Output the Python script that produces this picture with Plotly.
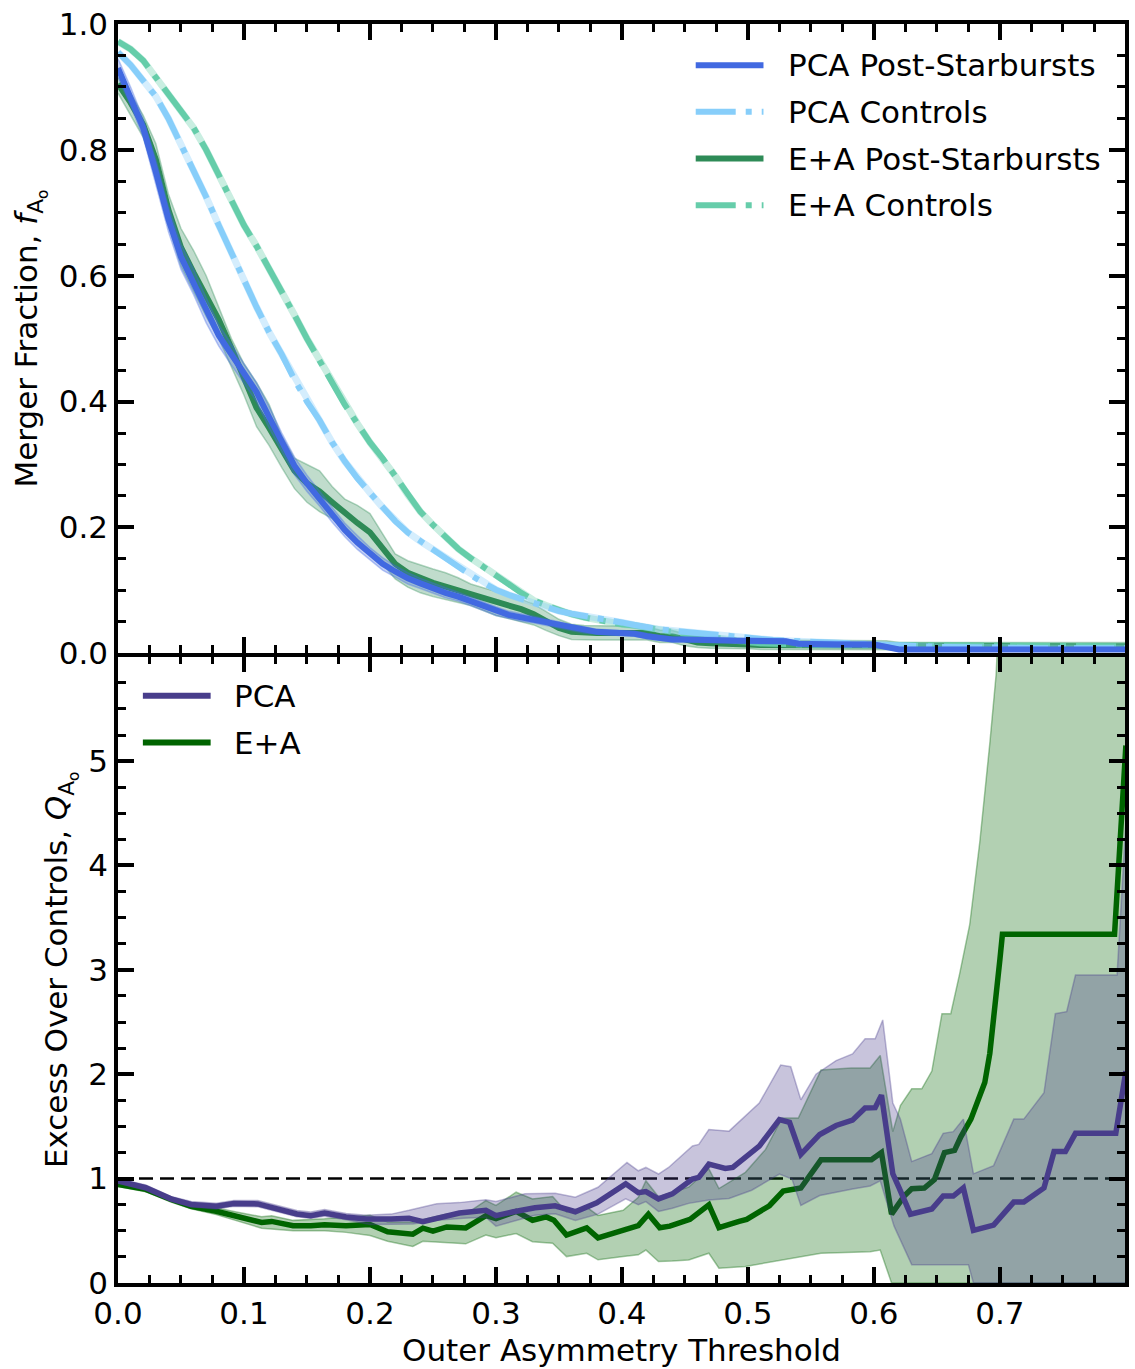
import numpy as np
import plotly.graph_objects as go
from plotly.subplots import make_subplots

# ---------------- top panel: merger fraction vs threshold ----------------
thr = np.round(np.arange(0, 0.8001, 0.01), 2)

pca_psb = [0.930, 0.885, 0.835, 0.765, 0.690, 0.630, 0.590, 0.545, 0.505, 0.475,
           0.445, 0.415, 0.375, 0.335, 0.298, 0.270, 0.246, 0.220, 0.196, 0.176,
           0.158, 0.142, 0.130, 0.119, 0.111, 0.103, 0.096, 0.090, 0.083, 0.075,
           0.067, 0.061, 0.057, 0.053, 0.049, 0.045, 0.040, 0.037, 0.034, 0.033,
           0.032, 0.031, 0.027, 0.024, 0.022, 0.022, 0.021, 0.021, 0.021, 0.020,
           0.020, 0.019, 0.019, 0.019, 0.015, 0.014, 0.014, 0.014, 0.014, 0.014,
           0.014, 0.010, 0.006, 0.006, 0.006, 0.006, 0.006, 0.006, 0.006, 0.006,
           0.006, 0.006, 0.006, 0.006, 0.006, 0.006, 0.006, 0.006, 0.006, 0.006,
           0.006]
pca_psb_hi = [0.945, 0.900, 0.850, 0.785, 0.710, 0.650, 0.610, 0.565, 0.522, 0.492,
              0.460, 0.430, 0.392, 0.350, 0.312, 0.283, 0.258, 0.232, 0.207, 0.187,
              0.168, 0.152, 0.139, 0.128, 0.119, 0.111, 0.104, 0.097, 0.090, 0.082,
              0.074, 0.067, 0.063, 0.058, 0.054, 0.050, 0.045, 0.042, 0.038, 0.037,
              0.036, 0.035, 0.031, 0.028, 0.026, 0.026, 0.025, 0.025, 0.025, 0.024,
              0.024, 0.023, 0.023, 0.023, 0.019, 0.018, 0.018, 0.018, 0.018, 0.018,
              0.018, 0.013, 0.009, 0.009, 0.009, 0.009, 0.009, 0.009, 0.009, 0.009,
              0.009, 0.009, 0.009, 0.009, 0.009, 0.009, 0.009, 0.009, 0.009, 0.009,
              0.009]
pca_psb_lo = [0.915, 0.870, 0.820, 0.745, 0.670, 0.610, 0.570, 0.525, 0.488, 0.458,
              0.430, 0.400, 0.358, 0.320, 0.284, 0.257, 0.234, 0.208, 0.185, 0.165,
              0.148, 0.132, 0.121, 0.110, 0.103, 0.095, 0.088, 0.083, 0.076, 0.068,
              0.060, 0.055, 0.051, 0.048, 0.044, 0.040, 0.035, 0.032, 0.030, 0.029,
              0.028, 0.027, 0.023, 0.020, 0.018, 0.018, 0.017, 0.017, 0.017, 0.016,
              0.016, 0.015, 0.015, 0.015, 0.011, 0.010, 0.010, 0.010, 0.010, 0.010,
              0.010, 0.007, 0.003, 0.003, 0.003, 0.003, 0.003, 0.003, 0.003, 0.003,
              0.003, 0.003, 0.003, 0.003, 0.003, 0.003, 0.003, 0.003, 0.003, 0.003,
              0.003]

pca_ctrl = [0.955, 0.935, 0.910, 0.885, 0.850, 0.810, 0.770, 0.725, 0.680, 0.635,
            0.590, 0.550, 0.510, 0.475, 0.435, 0.400, 0.370, 0.335, 0.305, 0.278,
            0.255, 0.232, 0.210, 0.192, 0.178, 0.165, 0.150, 0.137, 0.124, 0.112,
            0.101, 0.093, 0.086, 0.080, 0.073, 0.067, 0.063, 0.060, 0.056, 0.052,
            0.049, 0.045, 0.041, 0.038, 0.036, 0.034, 0.031, 0.029, 0.027, 0.025,
            0.024, 0.022, 0.021, 0.020, 0.019, 0.018, 0.017, 0.016, 0.015, 0.014,
            0.013, 0.012, 0.011, 0.011, 0.010, 0.010, 0.010, 0.009, 0.009, 0.009,
            0.009, 0.008, 0.008, 0.008, 0.008, 0.008, 0.008, 0.008, 0.008, 0.008,
            0.008]

ea_psb = [0.905, 0.875, 0.840, 0.785, 0.705, 0.645, 0.605, 0.568, 0.530, 0.485,
          0.440, 0.390, 0.358, 0.322, 0.290, 0.270, 0.257, 0.240, 0.222, 0.207,
          0.192, 0.168, 0.142, 0.128, 0.119, 0.112, 0.106, 0.100, 0.094, 0.088,
          0.083, 0.077, 0.070, 0.062, 0.050, 0.040, 0.034, 0.032, 0.032, 0.032,
          0.032, 0.032, 0.032, 0.027, 0.027, 0.022, 0.017, 0.016, 0.016, 0.016,
          0.014, 0.013, 0.013, 0.013, 0.013, 0.013, 0.013, 0.013, 0.013, 0.013,
          0.013, 0.013, 0.011, 0.011, 0.011, 0.011, 0.011, 0.011, 0.011, 0.011,
          0.011, 0.011, 0.011, 0.011, 0.011, 0.011, 0.011, 0.011, 0.011, 0.011,
          0.011]
ea_psb_hi = [0.915, 0.890, 0.855, 0.810, 0.730, 0.675, 0.640, 0.600, 0.550, 0.500,
             0.460, 0.430, 0.395, 0.345, 0.310, 0.300, 0.290, 0.265, 0.245, 0.235,
             0.222, 0.190, 0.158, 0.147, 0.140, 0.134, 0.128, 0.120, 0.110, 0.104,
             0.098, 0.092, 0.086, 0.078, 0.066, 0.054, 0.046, 0.044, 0.044, 0.044,
             0.043, 0.043, 0.042, 0.037, 0.036, 0.031, 0.025, 0.024, 0.024, 0.023,
             0.021, 0.020, 0.020, 0.020, 0.020, 0.020, 0.020, 0.020, 0.020, 0.020,
             0.020, 0.020, 0.017, 0.017, 0.017, 0.017, 0.017, 0.017, 0.017, 0.017,
             0.017, 0.017, 0.017, 0.017, 0.017, 0.017, 0.017, 0.017, 0.017, 0.017,
             0.017]
ea_psb_lo = [0.890, 0.855, 0.820, 0.760, 0.680, 0.615, 0.575, 0.535, 0.500, 0.455,
             0.410, 0.360, 0.330, 0.295, 0.262, 0.240, 0.225, 0.214, 0.195, 0.178,
             0.162, 0.142, 0.118, 0.105, 0.096, 0.090, 0.085, 0.080, 0.076, 0.068,
             0.060, 0.055, 0.050, 0.045, 0.036, 0.028, 0.022, 0.021, 0.021, 0.021,
             0.021, 0.021, 0.021, 0.017, 0.017, 0.012, 0.009, 0.008, 0.008, 0.008,
             0.007, 0.006, 0.006, 0.006, 0.006, 0.006, 0.006, 0.006, 0.006, 0.006,
             0.006, 0.006, 0.005, 0.005, 0.005, 0.005, 0.005, 0.005, 0.005, 0.005,
             0.005, 0.005, 0.005, 0.005, 0.005, 0.005, 0.005, 0.005, 0.005, 0.005,
             0.005]

ea_ctrl = [0.972, 0.960, 0.942, 0.915, 0.888, 0.862, 0.835, 0.800, 0.760, 0.720,
           0.680, 0.647, 0.612, 0.575, 0.538, 0.500, 0.465, 0.430, 0.395, 0.365,
           0.335, 0.310, 0.282, 0.252, 0.225, 0.204, 0.184, 0.166, 0.151, 0.138,
           0.125, 0.110, 0.096, 0.084, 0.076, 0.068, 0.062, 0.057, 0.053, 0.049,
           0.046, 0.044, 0.040, 0.037, 0.034, 0.031, 0.028, 0.025, 0.022, 0.020,
           0.018, 0.016, 0.015, 0.014, 0.014, 0.014, 0.013, 0.013, 0.013, 0.013,
           0.013, 0.012, 0.012, 0.012, 0.012, 0.012, 0.012, 0.011, 0.011, 0.011,
           0.011, 0.011, 0.011, 0.011, 0.011, 0.011, 0.011, 0.011, 0.011, 0.011,
           0.011]

# ---------------- bottom panel: excess over controls ----------------
q_pca_x = [0.000, 0.022, 0.042, 0.058, 0.078, 0.092, 0.111, 0.125, 0.142, 0.153,
           0.164, 0.181, 0.197, 0.217, 0.231, 0.242, 0.253, 0.271, 0.292, 0.300,
           0.313, 0.331, 0.347, 0.363, 0.380, 0.403, 0.413, 0.419, 0.429, 0.440,
           0.456, 0.461, 0.469, 0.482, 0.488, 0.509, 0.525, 0.533, 0.542, 0.557,
           0.570, 0.583, 0.593, 0.601, 0.606, 0.615, 0.620, 0.629, 0.646, 0.655,
           0.663, 0.671, 0.679, 0.695, 0.711, 0.719, 0.735, 0.743, 0.752, 0.760,
           0.792, 0.800]
q_pca = [0.977, 0.913, 0.806, 0.752, 0.735, 0.761, 0.758, 0.719, 0.661, 0.645,
         0.671, 0.632, 0.613, 0.613, 0.620, 0.588, 0.623, 0.670, 0.696, 0.645,
         0.680, 0.720, 0.740, 0.683, 0.769, 0.950, 0.865, 0.876, 0.806, 0.854,
         0.996, 1.012, 1.138, 1.097, 1.107, 1.312, 1.565, 1.540, 1.233, 1.423,
         1.509, 1.560, 1.677, 1.680, 1.800, 1.046, 0.911, 0.659, 0.709, 0.833,
         0.833, 0.911, 0.504, 0.554, 0.775, 0.775, 0.911, 1.260, 1.260, 1.434,
         1.434, 2.030]

q_pca_hi_x = [0.000, 0.022, 0.042, 0.058, 0.078, 0.092, 0.111, 0.125, 0.142, 0.153,
              0.164, 0.181, 0.197, 0.217, 0.231, 0.253, 0.271, 0.292, 0.300, 0.323,
              0.347, 0.363, 0.381, 0.404, 0.413, 0.419, 0.429, 0.437, 0.456, 0.461,
              0.469, 0.485, 0.509, 0.526, 0.534, 0.542, 0.554, 0.570, 0.583, 0.593,
              0.601, 0.607, 0.615, 0.621, 0.630, 0.646, 0.655, 0.663, 0.671, 0.679,
              0.695, 0.711, 0.719, 0.735, 0.744, 0.753, 0.760, 0.793, 0.800]
q_pca_hi = [1.000, 0.940, 0.830, 0.780, 0.765, 0.790, 0.790, 0.750, 0.695, 0.680,
            0.705, 0.665, 0.648, 0.660, 0.696, 0.759, 0.770, 0.797, 0.780, 0.854,
            0.860, 0.822, 0.917, 1.154, 1.075, 1.107, 1.044, 1.107, 1.312, 1.328,
            1.470, 1.455, 1.724, 2.088, 2.072, 1.755, 2.000, 2.131, 2.195, 2.340,
            2.340, 2.520, 1.725, 1.570, 1.163, 1.240, 1.434, 1.450, 1.570, 1.046,
            1.124, 1.570, 1.570, 1.822, 2.580, 2.600, 2.950, 2.950, 4.400]

q_pca_lo_x = [0.000, 0.022, 0.042, 0.058, 0.078, 0.092, 0.111, 0.125, 0.142, 0.153,
              0.164, 0.181, 0.200, 0.234, 0.253, 0.274, 0.292, 0.300, 0.331, 0.347,
              0.363, 0.381, 0.403, 0.413, 0.419, 0.429, 0.440, 0.453, 0.469, 0.485,
              0.503, 0.525, 0.535, 0.542, 0.557, 0.583, 0.597, 0.605, 0.616, 0.630,
              0.675, 0.679, 0.800]
q_pca_lo = [0.955, 0.890, 0.785, 0.730, 0.710, 0.735, 0.730, 0.690, 0.635, 0.620,
            0.640, 0.605, 0.560, 0.565, 0.600, 0.620, 0.630, 0.545, 0.648, 0.664,
            0.600, 0.660, 0.806, 0.750, 0.780, 0.686, 0.717, 0.763, 0.795, 0.810,
            0.889, 1.044, 0.996, 0.743, 0.838, 0.900, 0.930, 0.980, 0.545, 0.176,
            0.176, 0.000, 0.000]

q_ea_x = [0.000, 0.022, 0.042, 0.058, 0.078, 0.092, 0.114, 0.122, 0.139, 0.153,
          0.164, 0.181, 0.200, 0.214, 0.234, 0.242, 0.250, 0.261, 0.276, 0.292,
          0.300, 0.316, 0.329, 0.340, 0.346, 0.356, 0.372, 0.381, 0.399, 0.413,
          0.421, 0.430, 0.438, 0.454, 0.469, 0.477, 0.493, 0.499, 0.517, 0.528,
          0.542, 0.558, 0.598, 0.606, 0.614, 0.624, 0.630, 0.640, 0.648, 0.656,
          0.664, 0.669, 0.677, 0.683, 0.688, 0.692, 0.695, 0.698, 0.700, 0.702,
          0.791, 0.800]
q_ea = [0.945, 0.897, 0.800, 0.735, 0.687, 0.645, 0.580, 0.590, 0.548, 0.548,
        0.558, 0.548, 0.560, 0.490, 0.468, 0.525, 0.496, 0.537, 0.528, 0.645,
        0.617, 0.686, 0.601, 0.633, 0.601, 0.459, 0.528, 0.433, 0.495, 0.550,
        0.660, 0.530, 0.545, 0.610, 0.750, 0.530, 0.590, 0.610, 0.740, 0.880,
        0.910, 1.180, 1.180, 1.250, 0.660, 0.833, 0.903, 0.910, 0.990, 1.250,
        1.270, 1.400, 1.570, 1.750, 1.920, 2.200, 2.500, 2.850, 3.100, 3.340,
        3.340, 5.150]

q_ea_hi_x = [0.000, 0.022, 0.042, 0.058, 0.078, 0.092, 0.114, 0.122, 0.139, 0.164,
             0.200, 0.214, 0.234, 0.261, 0.276, 0.292, 0.300, 0.316, 0.329, 0.345,
             0.356, 0.372, 0.381, 0.401, 0.413, 0.419, 0.429, 0.440, 0.453, 0.469,
             0.477, 0.498, 0.514, 0.527, 0.540, 0.558, 0.582, 0.597, 0.605, 0.615,
             0.621, 0.630, 0.638, 0.646, 0.654, 0.661, 0.668, 0.676, 0.684, 0.692,
             0.697, 0.700, 0.800]
q_ea_hi = [0.965, 0.920, 0.825, 0.760, 0.720, 0.685, 0.635, 0.645, 0.600, 0.615,
           0.650, 0.585, 0.585, 0.660, 0.660, 0.790, 0.743, 0.870, 0.806, 0.828,
           0.680, 0.727, 0.648, 0.696, 0.822, 0.980, 0.826, 0.873, 0.920, 1.094,
           0.905, 1.060, 1.280, 1.580, 1.580, 2.040, 2.060, 2.060, 2.180, 1.450,
           1.700, 1.860, 1.860, 2.030, 2.580, 2.580, 2.960, 3.430, 4.220, 5.170,
           5.830, 6.600, 8.000]

q_ea_lo_x = [0.000, 0.022, 0.042, 0.058, 0.078, 0.092, 0.114, 0.139, 0.164, 0.181,
             0.200, 0.214, 0.234, 0.242, 0.261, 0.276, 0.292, 0.300, 0.316, 0.329,
             0.345, 0.356, 0.372, 0.381, 0.401, 0.413, 0.419, 0.429, 0.440, 0.453,
             0.469, 0.477, 0.498, 0.527, 0.558, 0.597, 0.605, 0.614, 0.800]
q_ea_lo = [0.925, 0.875, 0.775, 0.710, 0.655, 0.605, 0.525, 0.500, 0.500, 0.485,
           0.455, 0.400, 0.350, 0.400, 0.385, 0.375, 0.459, 0.433, 0.474, 0.395,
           0.380, 0.253, 0.285, 0.222, 0.253, 0.270, 0.316, 0.205, 0.210, 0.220,
           0.285, 0.142, 0.158, 0.220, 0.285, 0.300, 0.316, 0.000, 0.000]

# ---------------- styling ----------------
FONT = "DejaVu Sans"
FS = 31
ROYAL = "#4169E1"
SKY = "#87CEFA"
SEA = "#2E8B57"
AQUA = "#66CDAA"
SLATE = "#483D8B"
DKGREEN = "#006400"
DASHDOT = "40px,10px,6px,10px"


def rgba(hex_color, a):
    h = hex_color.lstrip("#")
    r, g, b = (int(h[i:i + 2], 16) for i in (0, 2, 4))
    return f"rgba({r},{g},{b},{a})"


def band(x_lo, lo, x_hi, hi, color, row):
    xs = list(x_lo) + list(x_hi)[::-1]
    ys = list(lo) + list(hi)[::-1]
    fig.add_trace(go.Scatter(x=xs, y=ys, mode="lines", fill="toself",
                             fillcolor=rgba(color, 0.3),
                             line=dict(color=rgba(color, 0.35), width=1.5),
                             showlegend=False, hoverinfo="skip"),
                  row=row, col=1)


fig = make_subplots(rows=2, cols=1, shared_xaxes=True, vertical_spacing=0)

# top panel
band(thr, ea_psb_lo, thr, ea_psb_hi, SEA, 1)
fig.add_trace(go.Scatter(x=thr, y=ea_psb, mode="lines",
                         line=dict(color=SEA, width=6), showlegend=False), row=1, col=1)
fig.add_trace(go.Scatter(x=thr, y=ea_ctrl, mode="lines",
                         line=dict(color=AQUA, width=7), opacity=0.35,
                         showlegend=False), row=1, col=1)
fig.add_trace(go.Scatter(x=thr, y=ea_ctrl, mode="lines",
                         line=dict(color=AQUA, width=6, dash=DASHDOT),
                         showlegend=False), row=1, col=1)
fig.add_trace(go.Scatter(x=thr, y=pca_ctrl, mode="lines",
                         line=dict(color=SKY, width=7), opacity=0.35,
                         showlegend=False), row=1, col=1)
fig.add_trace(go.Scatter(x=thr, y=pca_ctrl, mode="lines",
                         line=dict(color=SKY, width=6, dash=DASHDOT),
                         showlegend=False), row=1, col=1)
band(thr, pca_psb_lo, thr, pca_psb_hi, ROYAL, 1)
fig.add_trace(go.Scatter(x=thr, y=pca_psb, mode="lines",
                         line=dict(color=ROYAL, width=6), showlegend=False), row=1, col=1)

# bottom panel
fig.add_trace(go.Scatter(x=[0, 0.8], y=[1, 1], mode="lines",
                         line=dict(color="black", width=2.5, dash="14px,7px"),
                         showlegend=False), row=2, col=1)
band(q_ea_lo_x, q_ea_lo, q_ea_hi_x, q_ea_hi, DKGREEN, 2)
fig.add_trace(go.Scatter(x=q_ea_x, y=q_ea, mode="lines",
                         line=dict(color=DKGREEN, width=5.5), showlegend=False), row=2, col=1)
band(q_pca_lo_x, q_pca_lo, q_pca_hi_x, q_pca_hi, SLATE, 2)
fig.add_trace(go.Scatter(x=q_pca_x, y=q_pca, mode="lines",
                         line=dict(color=SLATE, width=5.5), showlegend=False), row=2, col=1)

# legends drawn as line samples plus labels
shapes = []
annotations = []
top_items = [("PCA Post-Starbursts", ROYAL, "solid", 0.9345),
             ("PCA Controls", SKY, DASHDOT, 0.8604),
             ("E+A Post-Starbursts", SEA, "solid", 0.7862),
             ("E+A Controls", AQUA, DASHDOT, 0.7120)]
for label, color, dash, yy in top_items:
    shapes.append(dict(type="line", xref="x domain", yref="y domain",
                       x0=0.5737, x1=0.6410, y0=yy, y1=yy,
                       line=dict(color=color, width=6, dash=dash)))
    annotations.append(dict(text=label, xref="x domain", yref="y domain",
                            x=0.6637, y=yy, xanchor="left", yanchor="middle",
                            showarrow=False, font=dict(family=FONT, size=FS, color="black")))
bottom_items = [("PCA", SLATE, 0.9375), ("E+A", DKGREEN, 0.8630)]
for label, color, yy in bottom_items:
    shapes.append(dict(type="line", xref="x2 domain", yref="y2 domain",
                       x0=0.0247, x1=0.0920, y0=yy, y1=yy,
                       line=dict(color=color, width=6)))
    annotations.append(dict(text=label, xref="x2 domain", yref="y2 domain",
                            x=0.1137, y=yy, xanchor="left", yanchor="middle",
                            showarrow=False, font=dict(family=FONT, size=FS, color="black")))

axis_common = dict(showline=True, linewidth=3.5, linecolor="black", mirror="allticks",
                   ticks="inside", ticklen=16, tickwidth=3.5, tickcolor="black",
                   showgrid=False, zeroline=False, ticklabeloverflow="allow",
                   tickfont=dict(family=FONT, size=FS, color="black"))

fig.update_xaxes(**axis_common, range=[0, 0.7993], tickvals=[0, 0.1, 0.2, 0.3, 0.4, 0.5, 0.6, 0.7],
                 ticktext=["0.0", "0.1", "0.2", "0.3", "0.4", "0.5", "0.6", "0.7"],
                 minor=dict(ticks="inside", ticklen=8, tickwidth=3, tickcolor="black",
                            tick0=0, dtick=0.025))
fig.update_xaxes(showticklabels=False, row=1, col=1)
fig.update_xaxes(title=dict(text="Outer Asymmetry Threshold", standoff=10,
                            font=dict(family=FONT, size=FS, color="black")), row=2, col=1)

# small gap between the panel domains so the two shared frame lines coincide
fig.update_yaxes(**axis_common, range=[0, 1], tickvals=[0, 0.2, 0.4, 0.6, 0.8, 1.0],
                 ticktext=["0.0", "0.2", "0.4", "0.6", "0.8", "1.0"],
                 minor=dict(ticks="inside", ticklen=8, tickwidth=3, tickcolor="black",
                            tick0=0, dtick=0.05),
                 title=dict(text="Merger Fraction, <i>f</i><sub>A<sub>o</sub></sub>", standoff=13,
                            font=dict(family=FONT, size=FS, color="black")),
                 domain=[0.50020, 1.0], row=1, col=1)
fig.update_yaxes(**axis_common, range=[0, 6], tickvals=[0, 1, 2, 3, 4, 5],
                 minor=dict(ticks="inside", ticklen=8, tickwidth=3, tickcolor="black",
                            tick0=0, dtick=0.25),
                 title=dict(text="Excess Over Controls, <i>Q</i><sub>A<sub>o</sub></sub>", standoff=12,
                            font=dict(family=FONT, size=FS, color="black")),
                 domain=[0.0, 0.49744], row=2, col=1)

fig.update_layout(width=1135, height=1369,
                  margin=dict(l=118, r=6, t=18, b=84),
                  paper_bgcolor="white", plot_bgcolor="white",
                  font=dict(family=FONT, size=FS, color="black"),
                  shapes=shapes, annotations=annotations, showlegend=False)

fig.write_html("out.html")
